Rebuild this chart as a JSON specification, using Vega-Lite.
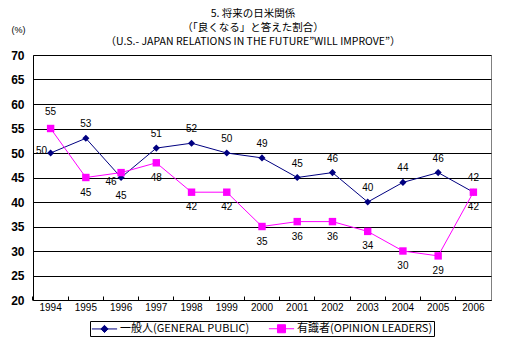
{
  "$schema": "https://vega.github.io/schema/vega-lite/v6.json",
  "autosize": {"type": "none"},
  "padding": {"left": 33, "top": 55, "right": 15, "bottom": 45},
  "width": 458,
  "height": 245,
  "background": "white",
  "title": {
    "text": ["5. 将来の日米関係", "（「良くなる」と答えた割合）", "（U.S.- JAPAN RELATIONS IN THE FUTURE”WILL IMPROVE”）"],
    "font": "Noto Sans CJK JP",
    "fontSize": 10.5,
    "fontWeight": "normal",
    "color": "black",
    "anchor": "middle",
    "dx": -9,
    "offset": -22,
    "lineHeight": 14
  },
  "data": {
    "values": [
      {"year": "1994", "series": "一般人(GENERAL PUBLIC)", "value": 50},
      {"year": "1995", "series": "一般人(GENERAL PUBLIC)", "value": 53},
      {"year": "1996", "series": "一般人(GENERAL PUBLIC)", "value": 45},
      {"year": "1997", "series": "一般人(GENERAL PUBLIC)", "value": 51},
      {"year": "1998", "series": "一般人(GENERAL PUBLIC)", "value": 52},
      {"year": "1999", "series": "一般人(GENERAL PUBLIC)", "value": 50},
      {"year": "2000", "series": "一般人(GENERAL PUBLIC)", "value": 49},
      {"year": "2001", "series": "一般人(GENERAL PUBLIC)", "value": 45},
      {"year": "2002", "series": "一般人(GENERAL PUBLIC)", "value": 46},
      {"year": "2003", "series": "一般人(GENERAL PUBLIC)", "value": 40},
      {"year": "2004", "series": "一般人(GENERAL PUBLIC)", "value": 44},
      {"year": "2005", "series": "一般人(GENERAL PUBLIC)", "value": 46},
      {"year": "2006", "series": "一般人(GENERAL PUBLIC)", "value": 42},
      {"year": "1994", "series": "有識者(OPINION LEADERS)", "value": 55},
      {"year": "1995", "series": "有識者(OPINION LEADERS)", "value": 45},
      {"year": "1996", "series": "有識者(OPINION LEADERS)", "value": 46},
      {"year": "1997", "series": "有識者(OPINION LEADERS)", "value": 48},
      {"year": "1998", "series": "有識者(OPINION LEADERS)", "value": 42},
      {"year": "1999", "series": "有識者(OPINION LEADERS)", "value": 42},
      {"year": "2000", "series": "有識者(OPINION LEADERS)", "value": 35},
      {"year": "2001", "series": "有識者(OPINION LEADERS)", "value": 36},
      {"year": "2002", "series": "有識者(OPINION LEADERS)", "value": 36},
      {"year": "2003", "series": "有識者(OPINION LEADERS)", "value": 34},
      {"year": "2004", "series": "有識者(OPINION LEADERS)", "value": 30},
      {"year": "2005", "series": "有識者(OPINION LEADERS)", "value": 29},
      {"year": "2006", "series": "有識者(OPINION LEADERS)", "value": 42}
    ]
  },
  "encoding": {
    "x": {
      "field": "year", "type": "ordinal",
      "scale": {"type": "band", "paddingInner": 0, "paddingOuter": 0},
      "axis": {
        "title": null, "labelAngle": 0, "labelFont": "Liberation Sans", "labelFontSize": 10,
        "labelColor": "black", "labelPadding": 6, "ticks": true, "tickSize": -4, "tickColor": "black",
        "bandPosition": 0, "labelBound": false,
        "domainColor": "black", "domainWidth": 1, "grid": false
      }
    },
    "y": {
      "field": "value", "type": "quantitative",
      "scale": {"domain": [20, 70], "nice": false, "zero": false},
      "axis": {
        "values": [20, 25, 30, 35, 40, 45, 50, 55, 60, 65, 70],
        "title": "(%)", "titleAngle": 0, "titleX": -15, "titleY": -21, "titleAlign": "center",
        "titleFont": "Liberation Sans", "titleFontSize": 9, "titleFontWeight": "normal", "titleColor": "black",
        "labelFont": "Liberation Sans", "labelFontSize": 12, "labelFontWeight": "bold", "labelColor": "black",
        "labelPadding": 9, "ticks": false, "domainColor": "black",
        "grid": true, "gridColor": "black", "gridWidth": 1
      }
    }
  },
  "layer": [
    {
      "mark": {"type": "line", "strokeWidth": 1},
      "encoding": {
        "color": {
          "field": "series", "type": "nominal",
          "scale": {"domain": ["一般人(GENERAL PUBLIC)", "有識者(OPINION LEADERS)"], "range": ["#000080", "#FF00FF"]},
          "legend": {
            "orient": "none", "legendX": 57, "legendY": 266, "direction": "horizontal", "title": null,
            "strokeColor": "black", "padding": 1, "fillColor": "white",
            "labelFont": "Noto Sans CJK JP", "labelFontSize": 11, "labelColor": "black",
            "symbolSize": 144, "symbolStrokeWidth": 1, "symbolOffset": 7, "labelOffset": 9, "columnPadding": 16,
            "encode": {
              "symbols": {
                "update": {
                  "shape": {"signal": "datum.value === '一般人(GENERAL PUBLIC)' ? 'M-2.1,0H2.1M0,-0.6L0.6,0L0,0.6L-0.6,0Z' : 'M-2.1,0H2.1M-0.67,-0.67H0.67V0.67H-0.67Z'"},
                  "fill": {"signal": "datum.value === '一般人(GENERAL PUBLIC)' ? '#000080' : '#FF00FF'"},
                  "stroke": {"signal": "datum.value === '一般人(GENERAL PUBLIC)' ? '#000080' : '#FF00FF'"}
                }
              }
            }
          }
        }
      }
    },
    {
      "transform": [{"filter": "datum.series === '一般人(GENERAL PUBLIC)'"}],
      "mark": {"type": "point", "filled": true, "opacity": 1, "size": 50, "shape": "diamond", "color": "#000080"}
    },
    {
      "transform": [{"filter": "datum.series === '有識者(OPINION LEADERS)'"}],
      "mark": {"type": "point", "filled": true, "opacity": 1, "size": 55, "shape": "square", "color": "#FF00FF"}
    },
    {
      "transform": [{"filter": "datum.series === '一般人(GENERAL PUBLIC)' && datum.year !== '1994' && datum.year !== '1996'"}],
      "mark": {"type": "text", "dy": -14, "font": "Liberation Sans", "fontSize": 10, "color": "black"},
      "encoding": {"text": {"field": "value", "type": "quantitative"}}
    },
    {
      "transform": [{"filter": "datum.series === '一般人(GENERAL PUBLIC)' && datum.year === '1994'"}],
      "mark": {"type": "text", "dx": -9, "dy": -2, "font": "Liberation Sans", "fontSize": 10, "color": "black"},
      "encoding": {"text": {"field": "value", "type": "quantitative"}}
    },
    {
      "transform": [{"filter": "datum.series === '一般人(GENERAL PUBLIC)' && datum.year === '1996'"}],
      "mark": {"type": "text", "dy": 18, "font": "Liberation Sans", "fontSize": 10, "color": "black"},
      "encoding": {"text": {"field": "value", "type": "quantitative"}}
    },
    {
      "transform": [{"filter": "datum.series === '有識者(OPINION LEADERS)' && datum.year !== '1994' && datum.year !== '1996'"}],
      "mark": {"type": "text", "dy": 15, "font": "Liberation Sans", "fontSize": 10, "color": "black"},
      "encoding": {"text": {"field": "value", "type": "quantitative"}}
    },
    {
      "transform": [{"filter": "datum.series === '有識者(OPINION LEADERS)' && datum.year === '1994'"}],
      "mark": {"type": "text", "dy": -17, "font": "Liberation Sans", "fontSize": 10, "color": "black"},
      "encoding": {"text": {"field": "value", "type": "quantitative"}}
    },
    {
      "transform": [{"filter": "datum.series === '有識者(OPINION LEADERS)' && datum.year === '1996'"}],
      "mark": {"type": "text", "dx": -10, "dy": 9, "font": "Liberation Sans", "fontSize": 10, "color": "black"},
      "encoding": {"text": {"field": "value", "type": "quantitative"}}
    }
  ],
  "config": {
    "view": {"stroke": "#808080", "strokeWidth": 1}
  }
}
